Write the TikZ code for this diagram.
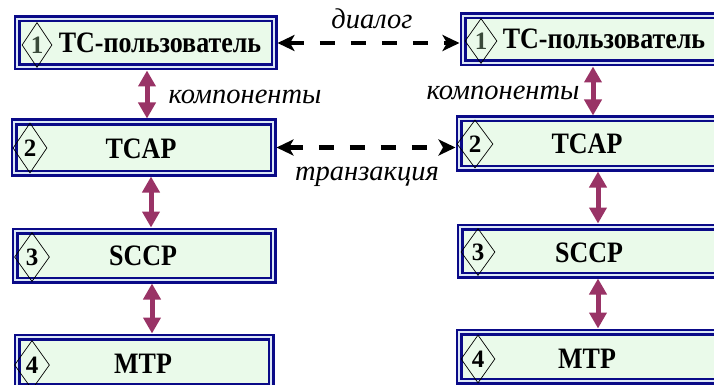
\documentclass[tikz,border=0pt]{standalone}
\usepackage{fontspec}
\setmainfont{Liberation Serif}
\usetikzlibrary{arrows.meta,shapes.geometric}
\definecolor{boxnavy}{HTML}{0A0A88}
\definecolor{gapblue}{HTML}{DCE8F6}
\definecolor{boxfill}{HTML}{EAFAEA}
\definecolor{arrowpurple}{HTML}{993366}
\definecolor{onegreen}{HTML}{3A4A3A}
\newcommand{\tallbox}[1]{\scalebox{1}[1.14]{#1}}
\begin{document}
\begin{tikzpicture}[x=1pt,y=-1pt,
  layerbox/.style={rectangle, draw=boxnavy, line width=2.5pt, double=gapblue,
    double distance=2pt, fill=boxfill, inner sep=0pt, outer sep=3.5pt},
  numdiam/.style={diamond, draw=black, line width=0.7pt, inner sep=0pt,
    font=\fontsize{25}{28}\selectfont\bfseries},
  boxtext/.style={inner sep=0pt, anchor=base, font=\fontsize{26}{30}\selectfont\bfseries},
  itallabel/.style={inner sep=0pt, anchor=base, font=\fontsize{28.5}{32}\selectfont\itshape},
  purplearrow/.style={draw=arrowpurple, line width=5pt,
    {Triangle[width=17pt,length=16pt]}-{Triangle[width=17pt,length=16pt]}},
  dasharrow/.style={draw=black, line width=4.5pt, dash pattern=on 15pt off 16pt,
    {Stealth[width=16pt,length=17pt,inset=4.5pt]}-{Stealth[width=16pt,length=17pt,inset=4.5pt]}}
]
\useasboundingbox (0,0) rectangle (714,385);

% left column boxes
\node[layerbox, minimum width=257pt, minimum height=48pt] (L1) at (145.5,43) {};
\node[layerbox, minimum width=259pt, minimum height=51pt] (L2) at (143.5,147.5) {};
\node[layerbox, minimum width=258pt, minimum height=49pt] (L3) at (144,255.5) {};
\node[layerbox, minimum width=254pt, minimum height=49pt] (L4) at (144,361.5) {};
% right column boxes
\node[layerbox, minimum width=258pt, minimum height=47pt] (R1) at (592,39.5) {};
\node[layerbox, minimum width=258pt, minimum height=49pt] (R2) at (588,143.5) {};
\node[layerbox, minimum width=258pt, minimum height=48pt] (R3) at (589,251) {};
\node[layerbox, minimum width=258pt, minimum height=49pt] (R4) at (588,356.5) {};

% diamonds
\node[numdiam, minimum width=30pt, minimum height=45pt, text=onegreen] (dL1) at (37,45) {1};
\node[numdiam, minimum width=34pt, minimum height=50pt] (dL2) at (30,148) {2};
\node[numdiam, minimum width=35pt, minimum height=49pt] (dL3) at (32,257) {3};
\node[numdiam, minimum width=35pt, minimum height=49pt] (dL4) at (32,365) {4};
\node[numdiam, minimum width=32pt, minimum height=45pt, text=onegreen] (dR1) at (481,41) {1};
\node[numdiam, minimum width=36pt, minimum height=48pt] (dR2) at (475,144) {2};
\node[numdiam, minimum width=34pt, minimum height=47pt] (dR3) at (478,252) {3};
\node[numdiam, minimum width=34pt, minimum height=48pt] (dR4) at (478,359) {4};

% box texts
\node[boxtext] (tL1) at (160,53) {\tallbox{ТС-пользователь}};
\node[boxtext] (tL2) at (141,158) {\tallbox{TCAP}};
\node[boxtext] (tL3) at (143,265) {\tallbox{SCCP}};
\node[boxtext] (tL4) at (143,373) {\tallbox{MTP}};
\node[boxtext] (tR1) at (604,49) {\tallbox{ТС-пользователь}};
\node[boxtext] (tR2) at (587,153) {\tallbox{TCAP}};
\node[boxtext] (tR3) at (589,262) {\tallbox{SCCP}};
\node[boxtext] (tR4) at (587,368) {\tallbox{MTP}};

% italic labels
\node[itallabel] (dialog) at (372,29) {диалог};
\node[itallabel] (kompL) at (245,103) {компоненты};
\node[itallabel] (kompR) at (503,100) {компоненты};
\node[itallabel] (trans) at (367,180) {транзакция};

% purple vertical arrows
\draw[purplearrow] ([xshift=1.5pt]L1.south) -- ([xshift=3.5pt]L2.north);
\draw[purplearrow] ([xshift=7.5pt]L2.south) -- ([xshift=7pt]L3.north);
\draw[purplearrow] ([xshift=8pt]L3.south) -- ([xshift=8pt]L4.north);
\draw[purplearrow] ([xshift=133.5pt]R1.south west) -- ([xshift=137.5pt]R2.north west);
\draw[purplearrow] ([xshift=142.5pt]R2.south west) -- ([xshift=141.5pt]R3.north west);
\draw[purplearrow] ([xshift=141.5pt]R3.south west) -- ([xshift=142.5pt]R4.north west);

% dashed horizontal arrows
\draw[dasharrow] (L1.east) -- (L1.east -| R1.west);
\draw[dasharrow] (L2.east) -- (L2.east -| R2.west);
\end{tikzpicture}
\end{document}
